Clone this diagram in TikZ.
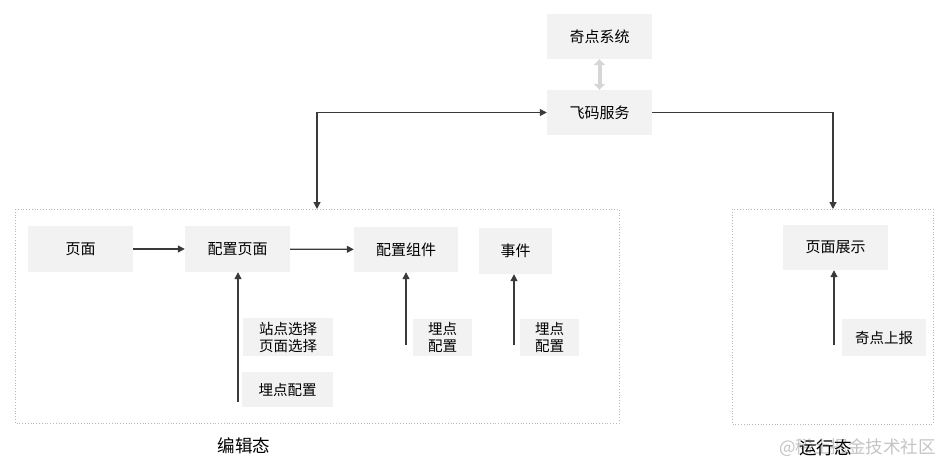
\documentclass[tikz,border=0pt]{standalone}
\usepackage{fontspec}
\setmainfont{Noto Sans CJK SC}
\usetikzlibrary{arrows.meta,positioning}
\definecolor{boxfill}{HTML}{F2F2F2}
\definecolor{linec}{HTML}{3A3A3A}
\definecolor{frame}{HTML}{B8B8B8}
\definecolor{dbl}{HTML}{D6D6D6}
\definecolor{wm}{HTML}{C4C4C4}
\tikzset{
  gbox/.style={fill=boxfill, draw=none, inner sep=0pt, font=\fontsize{15}{17}\selectfont, align=center},
  conn/.style={draw=linec, line width=1.2pt, -{Triangle[length=7pt,width=7pt]}},
  zone/.style={draw=frame, dotted, line width=0.8pt},
  zlabel/.style={font=\fontsize{17.5}{20}\selectfont}
}
\begin{document}
\begin{tikzpicture}[x=1pt,y=-1pt]
\useasboundingbox (0,0) rectangle (945,464);
% zones
\draw[zone] (15,209) rectangle (619,423);
\draw[zone] (732,209) rectangle (933,424);
\coordinate (ztopL) at (317,209);
\coordinate (ztopR) at (833,209);
% top boxes
\node[gbox, minimum width=105pt, minimum height=45pt] (qd) at (599.5,36.5) {奇点系统};
\node[gbox, minimum width=105pt, minimum height=45pt] (fm) at (599.5,112.5) {飞码服务};
% edit boxes
\node[gbox, minimum width=105pt, minimum height=46pt] (ym) at (80.5,249) {页面};
\node[gbox, minimum width=105pt, minimum height=46pt] (pzym) at (237.5,249) {配置页面};
\node[gbox, minimum width=104pt, minimum height=45pt] (pzzj) at (406,249.5) {配置组件};
\node[gbox, minimum width=73pt, minimum height=46pt] (sj) at (515.5,251) {事件};
\node[gbox, minimum width=90pt, minimum height=38pt, font=\fontsize{14.5}{17}\selectfont] (zdxz) at (288,337) {站点选择\\页面选择};
\node[gbox, minimum width=91pt, minimum height=35pt, font=\fontsize{14.5}{17}\selectfont] (mdpz1) at (287.5,389.5) {埋点配置};
\node[gbox, minimum width=59pt, minimum height=37pt, font=\fontsize{14.5}{17}\selectfont] (mdpz2) at (442.5,337.5) {埋点\\配置};
\node[gbox, minimum width=59pt, minimum height=37pt, font=\fontsize{14.5}{17}\selectfont] (mdpz3) at (549.5,337.5) {埋点\\配置};
% run boxes
\node[gbox, minimum width=105pt, minimum height=45pt] (ymzs) at (835.5,247.5) {页面展示};
\node[gbox, minimum width=84pt, minimum height=37pt, font=\fontsize{14.5}{17}\selectfont] (qdsb) at (884,337.5) {奇点上报};
% start coordinates of upward arrows
\coordinate (s1) at (238,402);
\coordinate (s2) at (406,345);
\coordinate (s3) at (514,345);
\coordinate (s4) at (834,345);
% connectors
\draw[dbl, line width=4pt, {Triangle[length=6pt,width=11pt]}-{Triangle[length=6pt,width=11pt]}] (qd.south) -- (fm.north);
\draw[conn] (ym) -- (pzym);
\draw[conn] (pzym) -- (pzzj);
\draw[conn] (s1) -- (s1 |- pzym.south);
\draw[conn] (s2) -- (s2 |- pzzj.south);
\draw[conn] (s3) -- (s3 |- sj.south);
\draw[conn] (s4) -- (s4 |- ymzs.south);
\draw[conn, {Triangle[length=7pt,width=7pt]}-{Triangle[length=7pt,width=7pt]}] (fm.west) -- (ztopL |- fm.west) -- (ztopL);
\draw[conn] (fm.east) -- (ztopR |- fm.east) -- (ztopR);
% labels
\node[zlabel] (bjt) at (244,446) {编辑态};
\node[zlabel, text=wm, anchor=west, inner sep=0pt] (wmk) at (779,448) {@稀土掘金技术社区};
\node[zlabel, anchor=west, inner sep=0pt] (yxt) at (799,448) {运行态};
\end{tikzpicture}
\end{document}
